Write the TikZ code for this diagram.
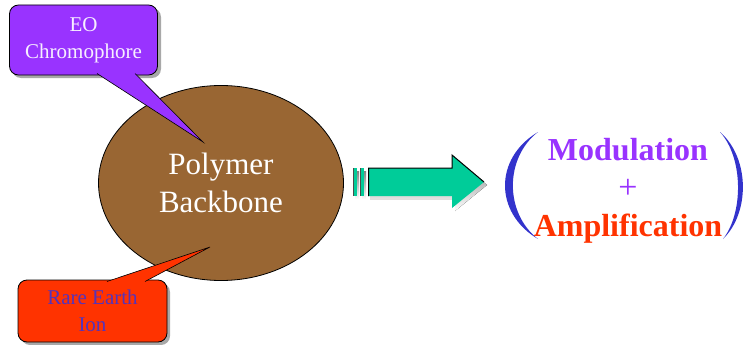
\documentclass[tikz,border=0pt]{standalone}
\usepackage{fontspec}
\setmainfont{Liberation Serif}
\usetikzlibrary{shapes.geometric}
\definecolor{eopurple}{HTML}{9933FF}
\definecolor{polybrown}{HTML}{996633}
\definecolor{rered}{HTML}{FF3300}
\definecolor{arrteal}{HTML}{00CC99}
\definecolor{parblue}{HTML}{3333CC}
\definecolor{retext}{HTML}{5533BB}
\definecolor{shade}{HTML}{A8A8A8}
\tikzset{
  calloutbox/.style={draw=black, line width=0.8pt, rounded corners=9pt, inner sep=0pt, align=center,
    font=\fontsize{21}{27}\selectfont},
  shadowbox/.style={fill=shade, rounded corners=9pt},
  pointeredge/.style={draw=black, line width=0.6pt, line join=miter},
  bigtext/.style={font=\fontsize{32}{40}\selectfont\bfseries}
}
\begin{document}
\begin{tikzpicture}[x=1pt,y=-1pt]
\useasboundingbox (0,0) rectangle (744,345);

% ---- EO chromophore callout
\fill[shadowbox] (12,8) rectangle (161,78);
\node[calloutbox, fill=eopurple, text=white!92!eopurple, minimum width=148pt, minimum height=70pt] (eo) at (83.5,40) {EO\\Chromophore};

% ---- Rare earth callout
\fill[shadowbox] (21,283) rectangle (170,345);
\node[calloutbox, fill=rered, text=retext, minimum width=149pt, minimum height=62pt] (re) at (92.5,311) {Rare Earth\\Ion};

% ---- Polymer backbone
\node[ellipse, draw=black, line width=0.8pt, fill=polybrown, minimum width=245pt, minimum height=195pt,
      text=white, align=center, font=\fontsize{31}{38}\selectfont, inner sep=0pt] (pb) at (221,183)
      {Polymer\\Backbone};

% pointers
\coordinate (eotip) at (203,142);
\coordinate (eob1) at (97,73.5);
\coordinate (eob2) at (135,73.5);
\fill[eopurple] (eob1) -- (eotip) -- (eob2) -- cycle;
\draw[pointeredge] (eob1) -- (eotip) -- (eob2);

\coordinate (retip) at (210,247);
\coordinate (reb1) at (107,281.5);
\coordinate (reb2) at (145,281.5);
\fill[rered] (reb1) -- (retip) -- (reb2) -- cycle;
\draw[pointeredge] (reb1) -- (retip) -- (reb2);

% ---- Block arrow
\coordinate (arrtip) at (484,182);
\fill[shade] (355,171) rectangle (359,199);
\fill[shade] (362,171) rectangle (366,199);
\fill[shade] (370,171) -- (455,171) -- (455,158) -- (487,185) -- (455,211) -- (455,199) -- (370,199) -- cycle;
\fill[arrteal] (353,168) rectangle (357,196);
\draw[black!70, line width=0.8pt] (353.4,168) -- (353.4,196);
\fill[arrteal] (360,168) rectangle (364,196);
\draw[black!70, line width=0.8pt] (360.4,168) -- (360.4,196);
\fill[arrteal] (368,168) -- (452,168) -- (452,155) -- (arrtip) -- (452,208) -- (452,196) -- (368,196) -- cycle;
\draw[black, line width=1pt] (368.5,196) -- (368.5,168) -- (452,168) -- (452,155) -- (arrtip);

% ---- Result
\fill[parblue] (538,132) .. controls (494,158) and (494,213) .. (538,239)
  .. controls (504.5,213) and (504.5,158) .. (538,132) -- cycle;
\fill[parblue] (720,132) .. controls (750,158) and (750,213) .. (723,239)
  .. controls (743.5,213) and (743.5,158) .. (720,132) -- cycle;
\node[bigtext, text=eopurple] (mod) at (628,150) {Modulation};
\node[text=eopurple, font=\fontsize{34}{34}\selectfont] (plus) at (628,189) {+};
\node[bigtext, text=rered] (amp) at (628,229) {Amplification};
\end{tikzpicture}
\end{document}
